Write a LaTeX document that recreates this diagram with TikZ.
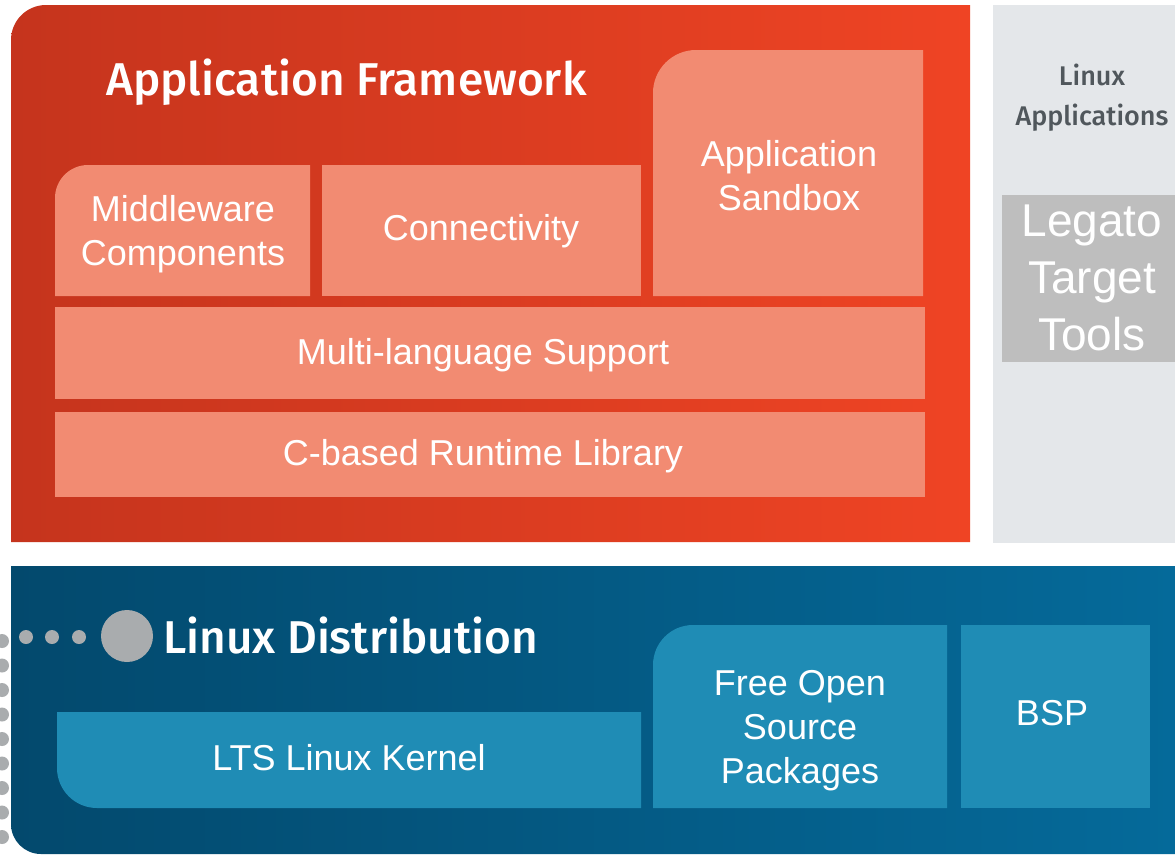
\documentclass[tikz,border=0pt]{standalone}
\usepackage{fontspec}
\setmainfont{Liberation Sans}
\newfontfamily\headfont{Fira Sans Medium}
\definecolor{redL}{HTML}{C5341D}
\definecolor{redM}{HTML}{E23E21}
\definecolor{redR}{HTML}{EF4424}
\definecolor{blueL}{HTML}{03496D}
\definecolor{blueM}{HTML}{045F8C}
\definecolor{blueR}{HTML}{056A9A}
\definecolor{salmon}{HTML}{F28B72}
\definecolor{bluebox}{HTML}{1F8CB5}
\definecolor{grayP}{HTML}{E4E7EA}
\definecolor{legatoC}{HTML}{BEBEBE}
\definecolor{dotC}{HTML}{A9ACAE}
\definecolor{apptext}{HTML}{50575C}
\begin{document}
\begin{tikzpicture}[x=1pt,y=1pt,
  boxtext/.style={text=white, font=\fontsize{36}{44}\selectfont, align=center, inner sep=0pt},
  headtext/.style={text=white, font=\headfont\fontsize{46}{50}\selectfont, inner sep=0pt, anchor=base west},
  apptxt/.style={text=apptext, font=\headfont\fontsize{27}{40}\selectfont, align=center, inner sep=0pt},
  legtxt/.style={text=white, font=\fontsize{46}{57}\selectfont, align=center, inner sep=0pt},
  dot/.style={fill=dotC}]
\useasboundingbox (0,0) rectangle (1175,-855);
\fill[white] (0,0) rectangle (1175,-855);
% red application framework panel
\shade[left color=redL, middle color=redM, right color=redR]
  (11,-542) -- (11,-40) arc[start angle=180,end angle=90,radius=35] -- (970,-5) -- (970,-542) -- cycle;
% grey linux applications panel
\fill[grayP] (993,-5) rectangle (1175,-543);
\fill[legatoC] (1002,-195) rectangle (1175,-362);
% blue linux distribution panel
\shade[left color=blueL, middle color=blueM, right color=blueR]
  (11,-566) -- (11,-824) arc[start angle=180,end angle=270,radius=30] -- (1175,-854) -- (1175,-566) -- cycle;
% salmon boxes
\fill[salmon] (55,-296) -- (55,-198) arc[start angle=180,end angle=90,radius=33] -- (310,-165) -- (310,-296) -- cycle;
\fill[salmon] (322,-165) rectangle (641,-296);
\fill[salmon] (653,-296) -- (653,-93) arc[start angle=180,end angle=90,radius=43] -- (923,-50) -- (923,-296) -- cycle;
\fill[salmon] (55,-307) rectangle (925,-399);
\fill[salmon] (55,-412) rectangle (925,-497);
% blue boxes
\fill[bluebox] (57,-712) -- (57,-768) arc[start angle=180,end angle=270,radius=40] -- (641,-808) -- (641,-712) -- cycle;
\fill[bluebox] (653,-808) -- (653,-665) arc[start angle=180,end angle=90,radius=40] -- (947,-625) -- (947,-808) -- cycle;
\fill[bluebox] (961,-625) rectangle (1150,-808);
% dots
\foreach \k in {0,...,8} \fill[dot] (2,{-641-24.5*\k}) circle[radius=7];
\foreach \xx in {26,52,79} \fill[dot] (\xx,-637) circle[radius=7];
\fill[dot] (127,-636) circle[radius=26];
% texts
\node[headtext] (af) at (106,-95) {Application Framework};
\node[headtext] (ld) at (163,-653) {Linux Distribution};
\node[boxtext] (mw) at (183,-234) {Middleware\\Components};
\node[boxtext] (cn) at (481,-231) {Connectivity};
\node[boxtext] (sb) at (789,-176) {Application\\Sandbox};
\node[boxtext] (ml) at (483,-355) {Multi-language Support};
\node[boxtext] (cr) at (483,-456) {C-based Runtime Library};
\node[boxtext] (lk) at (349,-758) {LTS Linux Kernel};
\node[boxtext] (fo) at (800,-731) {Free Open\\Source\\Packages};
\node[boxtext] (bs) at (1052,-713) {BSP};
\node[apptxt] (la) at (1092,-98) {Linux\\Applications};
\node[legtxt] (lt) at (1092,-278) {Legato\\Target\\Tools};
\end{tikzpicture}
\end{document}
